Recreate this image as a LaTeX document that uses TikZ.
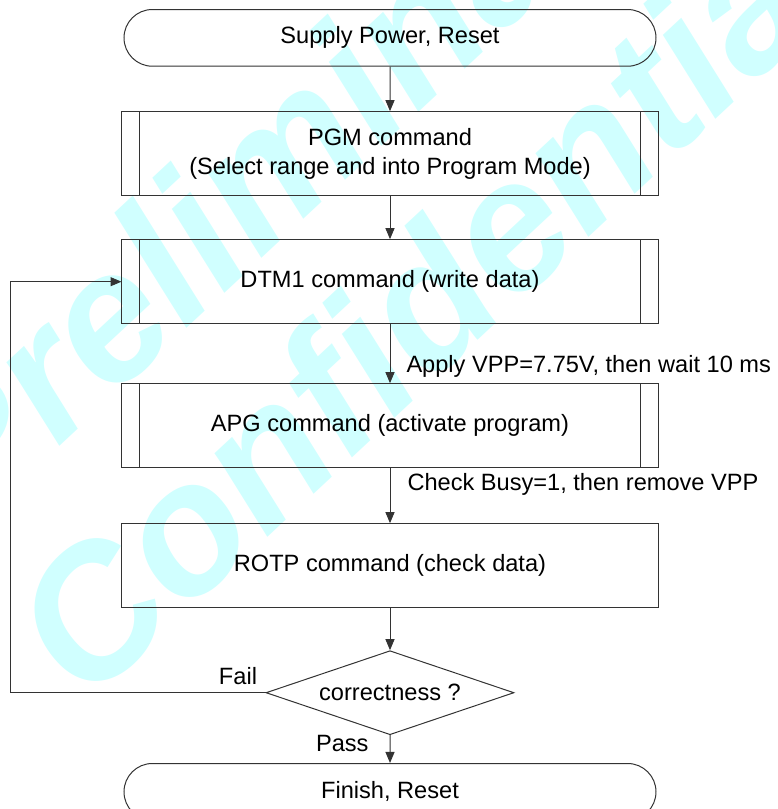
\documentclass[tikz,border=0pt]{standalone}
\usepackage{fontspec}
\setmainfont{Liberation Sans}
\usepackage{tikz}
\usetikzlibrary{arrows.meta,chains,matrix,positioning,scopes,shapes.geometric,shapes.misc}
\definecolor{markcyan}{RGB}{208,255,255}
\newcommand{\flowfont}{\fontsize{23.6}{29}\selectfont}
\newcommand{\markfont}{\fontsize{184}{200}\selectfont\bfseries\itshape}
\tikzset{>={Triangle[length=11pt,width=9pt]},
	flowline/.style={draw=black!80, line width=1pt},
	every join/.style={->, flowline},
	term/.style={flowline, rounded rectangle, minimum width=532pt, minimum height=56.7pt, font=\flowfont},
	cmd/.style={flowline, rectangle, minimum width=536pt, minimum height=84pt, align=center, font=\flowfont},
	subcmd/.style={cmd, path picture={%
			\draw[flowline] ([xshift=18pt]path picture bounding box.north west) -- ([xshift=18pt]path picture bounding box.south west)
			([xshift=-18pt]path picture bounding box.north east) -- ([xshift=-18pt]path picture bounding box.south east);}},
	test/.style={flowline, diamond, shape aspect=3, inner sep=0pt, minimum width=248pt, minimum height=84pt, font=\flowfont},
	labeled/.style={font=\flowfont, inner sep=0pt},
	wmark/.style={text=markcyan, font=\markfont, inner sep=0pt, rotate=43}
}

\begin{document}
\begin{tikzpicture}[x=1pt, y=1pt]
	\clip (0,0) rectangle (777,-809);
	% watermark
	\node[wmark] (wm1) at (302,-156) {Preliminary};
	\node[wmark] (wm2) at (430,-296) {Confidential};
	
	\matrix (m) [anchor=north, inner sep=0pt, row sep=0pt] at (390,-8.8)
	{
		\node[term] (start) {Supply Power, Reset}; \\[44.5pt]
		\node[subcmd] (pgm) {PGM command\\(Select range and into Program Mode)}; \\[43pt]
		\node[subcmd] (dtm) {DTM1 command (write data)}; \\[59pt]
		\node[subcmd] (apg) {APG command (activate program)}; \\[55pt]
		\node[cmd] (rotp) {ROTP command (check data)}; \\[42pt]
		\node[test] (check) {correctness ?}; \\[28pt]
		\node[term] (finish) {Finish, Reset}; \\
	};
	{ [start chain]
		\chainin (start);
		\chainin (pgm) [join];
		\chainin (dtm) [join];
		\chainin (apg)
			[join=by {edge node={node[labeled, pos=0.72, right=16pt] (vpp) {Apply VPP=7.75V, then wait 10 ms}}}];
		\chainin (rotp)
			[join=by {edge node={node[labeled, pos=0.29, right=17pt] (busy) {Check Busy=1, then remove VPP}}}];
		\chainin (check) [join];
		\chainin (finish)
			[join=by {edge node={node[labeled, pos=0.29, left=21pt] (pass) {Pass}}}];
	}
	% retry loop
	\draw[->, flowline] (check.west) node[labeled, above left=7pt and 8pt] (fail) {Fail}
		-| ([xshift=-111pt]dtm.west) -- (dtm.west);
\end{tikzpicture}
\end{document}
